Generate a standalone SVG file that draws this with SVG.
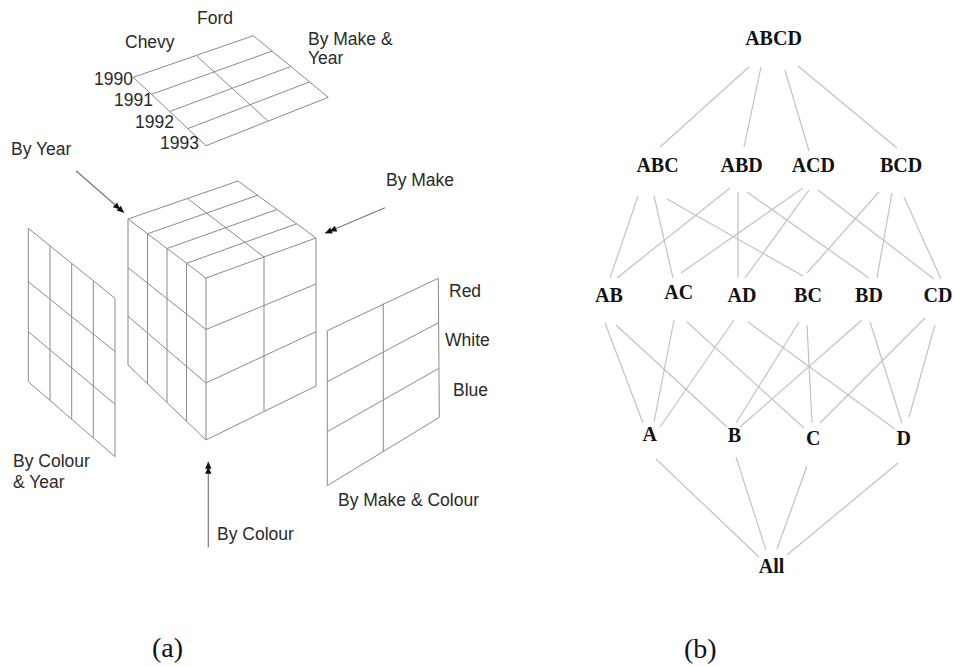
<svg xmlns="http://www.w3.org/2000/svg" width="954" height="667" viewBox="0 0 954 667">
<style>
  .g { fill: none; stroke: #8a8a8a; stroke-width: 1; }
  .t { font-family: "Liberation Sans", Arial, sans-serif; font-size: 17.5px; fill: #2a2a2a; }
  .cap { font-family: "Liberation Serif", "Times New Roman", serif; font-size: 28px; fill: #111; }
  .n { font-family: "Liberation Serif", "Times New Roman", serif; font-size: 20px; font-weight: bold; fill: #111; text-anchor: middle; }
  .e { stroke: #c2c2c2; stroke-width: 1.2; fill: none; }
  .arr { stroke: #777; stroke-width: 1.2; fill: none; marker-end: url(#dbl); }
</style>
<defs>
  <marker id="dbl" viewBox="-14 -4 15 8" refX="0" refY="0" markerWidth="15" markerHeight="8" markerUnits="userSpaceOnUse" orient="auto">
    <path d="M0,0 L-7,-3.2 L-7,3.2 Z M-5,0 L-12,-3.2 L-12,3.2 Z" fill="#111"/>
  </marker>
</defs>
<rect width="954" height="667" fill="#ffffff"/>

<g id="plane-make-year">
  <path class="g" d="M133.3,77.3 L253.3,35.7 L328.3,97.3 L206,145.7 Z"/>
  <path class="g" d="M151.5,94.4 L272,51.1 M169.7,111.5 L290.8,66.5 M187.8,128.6 L309.6,81.9 M196.7,56 L268,121"/>
  <text class="t" x="197" y="24">Ford</text>
  <text class="t" x="125" y="48">Chevy</text>
  <text class="t" x="308" y="45">By Make &amp;</text>
  <text class="t" x="308" y="64">Year</text>
  <text class="t" x="94" y="85">1990</text>
  <text class="t" x="114" y="106">1991</text>
  <text class="t" x="135" y="128">1992</text>
  <text class="t" x="160" y="149">1993</text>
</g>

<g id="cube">
  <path class="g" d="M128,219 L238,181 L316,238 L206,278 Z"/>
  <path class="g" d="M128,219 L128,365 L206,440 L316,386 L316,238 M206,278 L206,440"/>
  <path class="g" d="M147.5,233.8 L147.5,383.8 M167,248.5 L167,402.5 M186.5,263.3 L186.5,421.3"/>
  <path class="g" d="M128,267.7 L206,329.5 L316,284 M128,316.3 L206,383 L316,331.7"/>
  <path class="g" d="M264,257 L264,412"/>
  <path class="g" d="M147.5,233.8 L257.5,195.3 M167,248.5 L277,209.5 M186.5,263.3 L296.5,223.8 M188,199 L264,257"/>
</g>

<g id="plane-colour-year">
  <path class="g" d="M28.3,228.3 L115,298.3 L115,456.7 L28.3,381.7 Z"/>
  <path class="g" d="M50,245.8 L50,400.5 M71.7,263.3 L71.7,419.2 M93.3,280.8 L93.3,438"/>
  <path class="g" d="M28.3,281.7 L115,351.5 M28.3,331.7 L115,404.2"/>
  <text class="t" x="13" y="467">By Colour</text>
  <text class="t" x="13" y="488">&amp; Year</text>
</g>

<g id="plane-make-colour">
  <path class="g" d="M327.3,330.7 L438.3,278.3 L439.3,417.3 L327.3,485.7 Z"/>
  <path class="g" d="M383.3,303.5 L383.3,451.7"/>
  <path class="g" d="M327.3,381.7 L438.6,322.7 M327.3,431.7 L438.9,368.3"/>
  <text class="t" x="449" y="297">Red</text>
  <text class="t" x="445" y="346">White</text>
  <text class="t" x="453" y="396">Blue</text>
  <text class="t" x="338" y="506">By Make &amp; Colour</text>
</g>

<g id="arrows">
  <line class="arr" x1="76" y1="170.7" x2="124" y2="212.7"/>
  <line class="arr" x1="385" y1="207.7" x2="325" y2="233.3"/>
  <line class="arr" x1="208.3" y1="547.3" x2="208.3" y2="461.7"/>
  <text class="t" x="11" y="155">By Year</text>
  <text class="t" x="386" y="186">By Make</text>
  <text class="t" x="217" y="540">By Colour</text>
</g>

<text class="cap" x="152" y="657">(a)</text>
<text class="cap" x="684" y="658">(b)</text>

<g id="connectors">
  <line class="e" x1="749" y1="67" x2="660" y2="147"/>
  <line class="e" x1="761" y1="67" x2="744" y2="147"/>
  <line class="e" x1="785" y1="70" x2="809" y2="151"/>
  <line class="e" x1="798" y1="66" x2="897" y2="148"/>

  <line class="e" x1="638" y1="196" x2="610" y2="278"/>
  <line class="e" x1="654" y1="196" x2="673" y2="278"/>
  <line class="e" x1="667" y1="199" x2="803" y2="276"/>
  <line class="e" x1="730" y1="188" x2="617" y2="278"/>
  <line class="e" x1="738" y1="192" x2="738" y2="278"/>
  <line class="e" x1="747" y1="192" x2="869" y2="278"/>
  <line class="e" x1="803" y1="188" x2="681" y2="273"/>
  <line class="e" x1="809" y1="190" x2="745" y2="278"/>
  <line class="e" x1="818" y1="190" x2="934" y2="279"/>
  <line class="e" x1="879" y1="192" x2="807" y2="273"/>
  <line class="e" x1="892" y1="193" x2="877" y2="278"/>
  <line class="e" x1="904" y1="197" x2="941" y2="279"/>

  <line class="e" x1="605" y1="323" x2="643" y2="423"/>
  <line class="e" x1="616" y1="325" x2="727" y2="427"/>
  <line class="e" x1="674" y1="320" x2="654" y2="422"/>
  <line class="e" x1="687" y1="322" x2="804" y2="428"/>
  <line class="e" x1="734" y1="320" x2="660" y2="427"/>
  <line class="e" x1="748" y1="322" x2="895" y2="429"/>
  <line class="e" x1="799" y1="322" x2="736" y2="423"/>
  <line class="e" x1="807" y1="325" x2="812" y2="423"/>
  <line class="e" x1="862" y1="320" x2="740" y2="427"/>
  <line class="e" x1="870" y1="322" x2="902" y2="423"/>
  <line class="e" x1="925" y1="318" x2="820" y2="423"/>
  <line class="e" x1="935" y1="325" x2="909" y2="417"/>

  <line class="e" x1="656" y1="459" x2="759" y2="557"/>
  <line class="e" x1="736" y1="457" x2="766" y2="550"/>
  <line class="e" x1="807" y1="466" x2="777" y2="549"/>
  <line class="e" x1="898" y1="463" x2="787" y2="555"/>
</g>

<g id="n-ABCD"><text class="n" x="773.5" y="45">ABCD</text></g>
<g id="n-ABC"><text class="n" x="657.5" y="172">ABC</text></g>
<g id="n-ABD"><text class="n" x="741.7" y="172">ABD</text></g>
<g id="n-ACD"><text class="n" x="813.3" y="172">ACD</text></g>
<g id="n-BCD"><text class="n" x="901" y="172">BCD</text></g>
<g id="n-AB"><text class="n" x="609" y="302">AB</text></g>
<g id="n-AC"><text class="n" x="678.7" y="299">AC</text></g>
<g id="n-AD"><text class="n" x="742" y="302">AD</text></g>
<g id="n-BC"><text class="n" x="808" y="302">BC</text></g>
<g id="n-BD"><text class="n" x="869" y="302">BD</text></g>
<g id="n-CD"><text class="n" x="938" y="302">CD</text></g>
<g id="n-A"><text class="n" x="649.7" y="441">A</text></g>
<g id="n-B"><text class="n" x="734.5" y="442">B</text></g>
<g id="n-C"><text class="n" x="813.3" y="445">C</text></g>
<g id="n-D"><text class="n" x="903.8" y="445">D</text></g>
<g id="n-All"><text class="n" x="771.5" y="573">All</text></g>
</svg>
